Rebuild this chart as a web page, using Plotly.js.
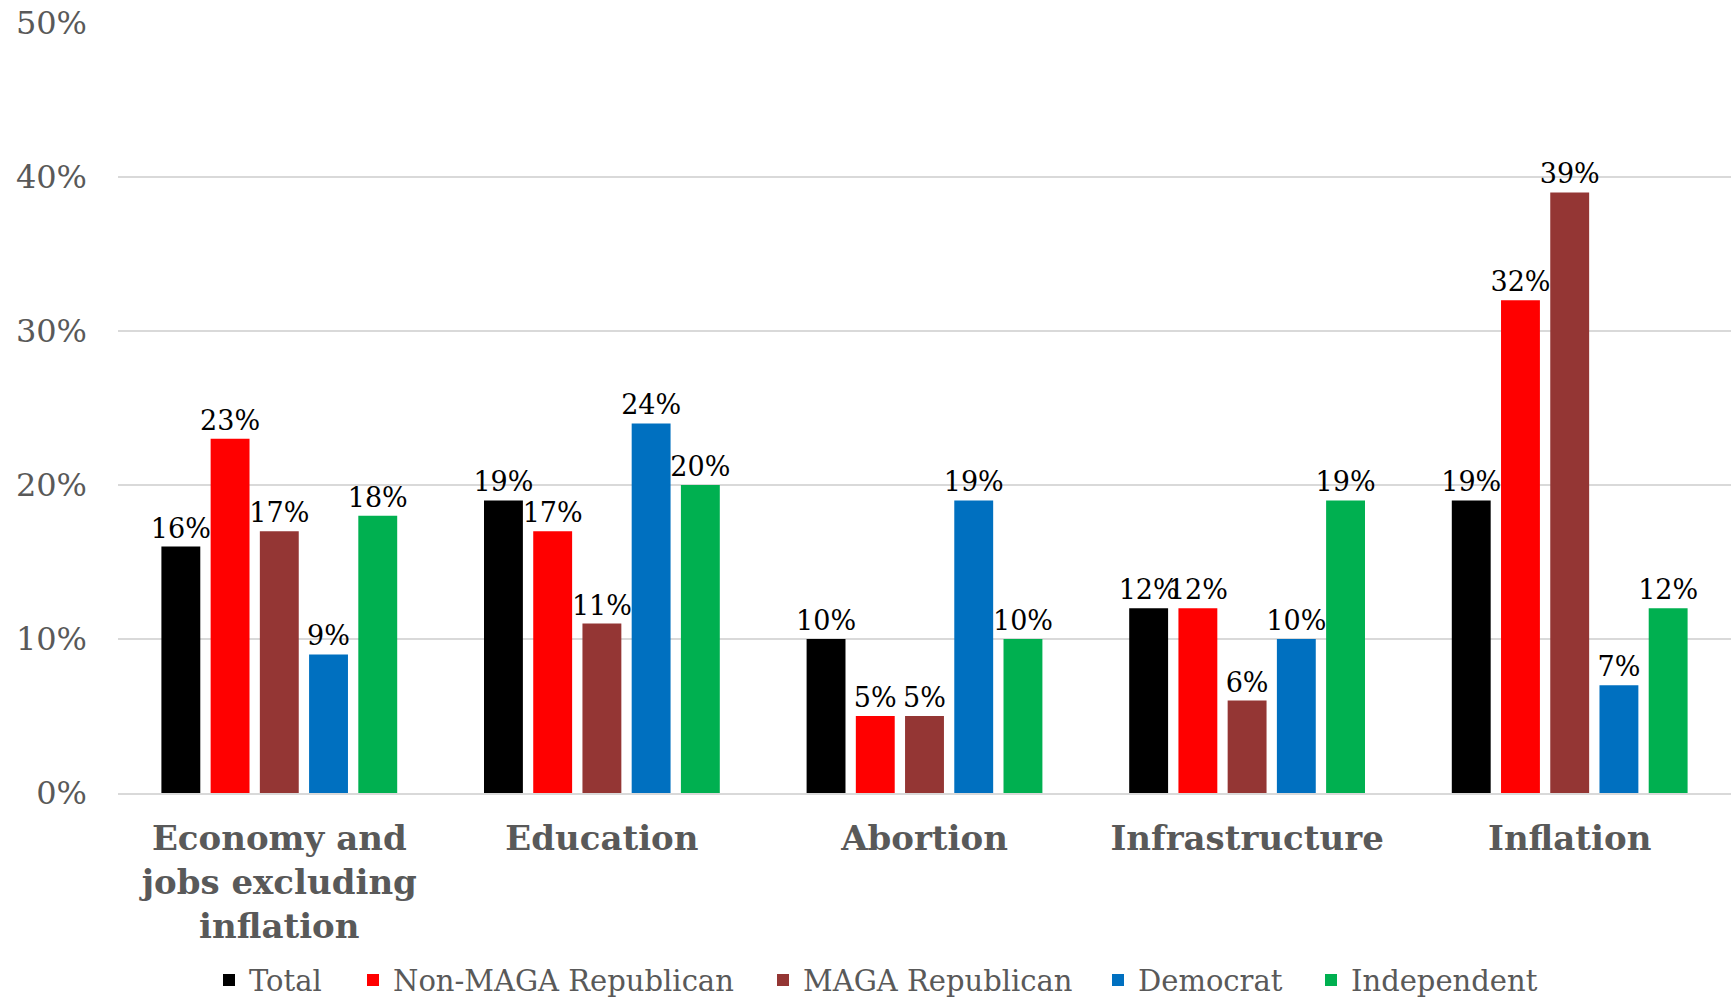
<!DOCTYPE html>
<html>
<head>
<meta charset="utf-8">
<script src="https://cdn.plot.ly/plotly-3.0.1.min.js"></script>
<style>html,body{margin:0;padding:0;background:#fff;}#chart{width:1736px;height:998px;}</style>
</head>
<body>
<div id="chart"></div>
<script>
const categories = ["Economy and<br>jobs excluding<br>inflation", "Education", "Abortion", "Infrastructure", "Inflation"];
const seriesNames = ["Total", "Non-MAGA Republican", "MAGA Republican", "Democrat", "Independent"];
const total = [16, 19, 10, 12, 19];
const nonMagaRep = [23, 17, 5, 12, 32];
const magaRep = [17, 11, 5, 6, 39];
const democrat = [9, 24, 19, 10, 7];
const independent = [18, 20, 10, 19, 12];
const colors = ["#000000", "#FF0000", "#943634", "#0070C0", "#00B050"];
const yTicks = [0, 10, 20, 30, 40, 50];

const seriesValues = [total, nonMagaRep, magaRep, democrat, independent];
const font = "DejaVu Serif, Georgia, serif";
const legendIds = ["legend", "legend2", "legend3", "legend4", "legend5"];
const legendX = [209, 353, 763, 1098, 1311]; // left edges of legend entries (px)

const data = seriesValues.map((vals, i) => ({
  type: "bar",
  name: seriesNames[i],
  legend: legendIds[i],
  x: categories,
  y: vals,
  marker: {color: colors[i]},
  text: vals.map(v => v + "%"),
  textposition: "outside",
  textfont: {family: font, size: 27, color: "#000000"},
  constraintext: "none",
  cliponaxis: false,
  hoverinfo: "none"
}));

const layout = {
  width: 1736,
  height: 998,
  margin: {l: 118, r: 5, t: 23, b: 205},
  paper_bgcolor: "#ffffff",
  plot_bgcolor: "#ffffff",
  barmode: "group",
  bargap: 0.237,
  bargroupgap: 0.21,
  font: {family: font, color: "#595959"},
  showlegend: true,
  xaxis: {
    type: "category",
    showgrid: false,
    showline: true,
    linecolor: "#D9D9D9",
    linewidth: 2,
    ticks: "",
    tickfont: {family: font, size: 34, color: "#595959", weight: "bold"},
    ticklabelstandoff: 14
  },
  yaxis: {
    range: [0, 50],
    tickvals: yTicks,
    ticktext: yTicks.map(v => v + "%"),
    showgrid: true,
    gridcolor: "#D9D9D9",
    gridwidth: 2,
    zeroline: false,
    showline: false,
    ticks: "",
    tickfont: {family: font, size: 32, color: "#595959"},
    ticklabelstandoff: 30
  }
};

legendIds.forEach((id, i) => {
  layout[id] = {
    orientation: "h",
    xref: "container",
    x: legendX[i] / 1736,
    xanchor: "left",
    yref: "container",
    y: 0.018,
    yanchor: "middle",
    font: {family: font, size: 29, color: "#595959"},
    itemwidth: 30,
    bgcolor: "rgba(0,0,0,0)"
  };
});

Plotly.newPlot("chart", data, layout, {displayModeBar: false, staticPlot: true});
</script>
</body>
</html>
